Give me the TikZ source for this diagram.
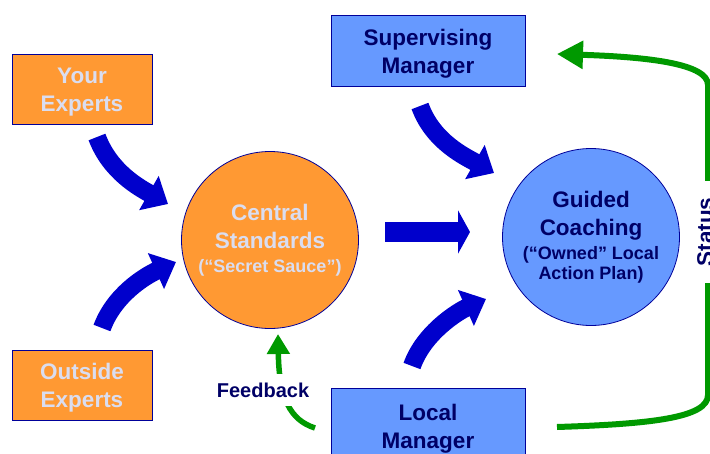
\documentclass[tikz,border=0pt]{standalone}
\usepackage{fontspec}
\setmainfont{Liberation Sans}
\usetikzlibrary{arrows.meta}
\definecolor{orangefill}{HTML}{FF9933}
\definecolor{bluefill}{HTML}{6699FF}
\definecolor{navy}{HTML}{000066}
\definecolor{edge}{HTML}{000099}
\definecolor{paletext}{HTML}{DADDF0}
\definecolor{flowblue}{HTML}{0000CC}
\definecolor{loopgreen}{HTML}{009900}
% strut that lowers a two-line box label a little
\newcommand{\toppad}{\rule{0pt}{21pt}}
\newcommand{\smalltxt}{\fontsize{18}{20}\selectfont}
\begin{document}
\begin{tikzpicture}[x=1pt,y=-1pt,
  bigfont/.style={font=\fontsize{22.5}{28}\selectfont\bfseries},
  source/.style={draw=edge, line width=1pt, fill=orangefill, text=paletext,
    minimum width=140pt, minimum height=70pt, inner sep=0pt, align=center, bigfont},
  manager/.style={draw=edge, line width=1pt, fill=bluefill, text=navy,
    minimum width=194pt, minimum height=71pt, inner sep=0pt, align=center, bigfont},
  hub/.style={circle, draw=edge, line width=0.8pt, minimum size=177pt,
    inner sep=0pt, align=center, bigfont},
  bendarrow/.style={draw=flowblue, line width=18pt, -{Triangle[length=22pt,width=38pt]}},
  loopline/.style={draw=loopgreen, line width=5.5pt},
]
\clip (0,0) rectangle (710,453);
\fill[white] (0,0) rectangle (710,453);

% sources, managers and the two hubs
\node[source] (your) at (82,89) {\toppad Your\\Experts};
\node[source] (outside) at (82,385) {\toppad Outside\\Experts};
\node[manager] (super) at (428,51) {\toppad Supervising\\Manager};
\node[manager, minimum height=76pt] (local) at (428,426) {\toppad Local\\Manager};
\node[hub, fill=orangefill, text=paletext] (central) at (270,240)
  {Central\\Standards\\[-4pt]{\smalltxt(“Secret Sauce”)}};
\node[hub, fill=bluefill, text=navy] (guided) at (591,237)
  {Guided\\Coaching\\[-4pt]{\smalltxt(“Owned” Local}\\[-8pt]{\smalltxt Action Plan)}};

% curved feed arrows
\coordinate (a1s) at (97,137);  \coordinate (a1e) at (168,204);
\coordinate (a2s) at (102,328); \coordinate (a2e) at (176,262);
\coordinate (a3s) at (420,106); \coordinate (a3e) at (494,173);
\coordinate (a4s) at (412,366); \coordinate (a4e) at (486,299);
\draw[bendarrow] (a1s) .. controls (110,172) and (140,188) .. (a1e);
\draw[bendarrow] (a2s) .. controls (114,295) and (145,276) .. (a2e);
\draw[bendarrow] (a3s) .. controls (433,142) and (466,157) .. (a3e);
\draw[bendarrow] (a4s) .. controls (424,332) and (459,311) .. (a4e);

% straight arrow between the hubs
\coordinate (m1) at (385,232); \coordinate (m2) at (470,232);
\draw[draw=flowblue, line width=20pt, -{Triangle[length=12pt,width=43pt]}] (m1) -- (m2);

% feedback loop
\coordinate (fbs) at (315,428); \coordinate (fbe) at (278,334);
\draw[loopline, -{Triangle[length=20pt,width=22pt]}] (fbs) .. controls (290,420) and (279,398) .. (fbe);
\node[fill=white, text=navy, font=\fontsize{20}{24}\selectfont\bfseries,
  inner xsep=2pt, inner ysep=9pt] (fb) at (263,390) {Feedback};

% status loop, running out past the right edge
\coordinate (sts) at (557,427); \coordinate (ste) at (557,54);
\draw[loopline, line width=6pt, -{Triangle[length=26pt,width=27pt]}]
  (sts) .. controls (650,424) and (708,418) .. (708,395) -- (708,85)
  .. controls (708,64) and (650,57) .. (ste);
\node[fill=white, text=navy, rotate=90, bigfont, inner xsep=17pt, inner ysep=3pt]
  (status) at (705,232) {Status};
\end{tikzpicture}
\end{document}
